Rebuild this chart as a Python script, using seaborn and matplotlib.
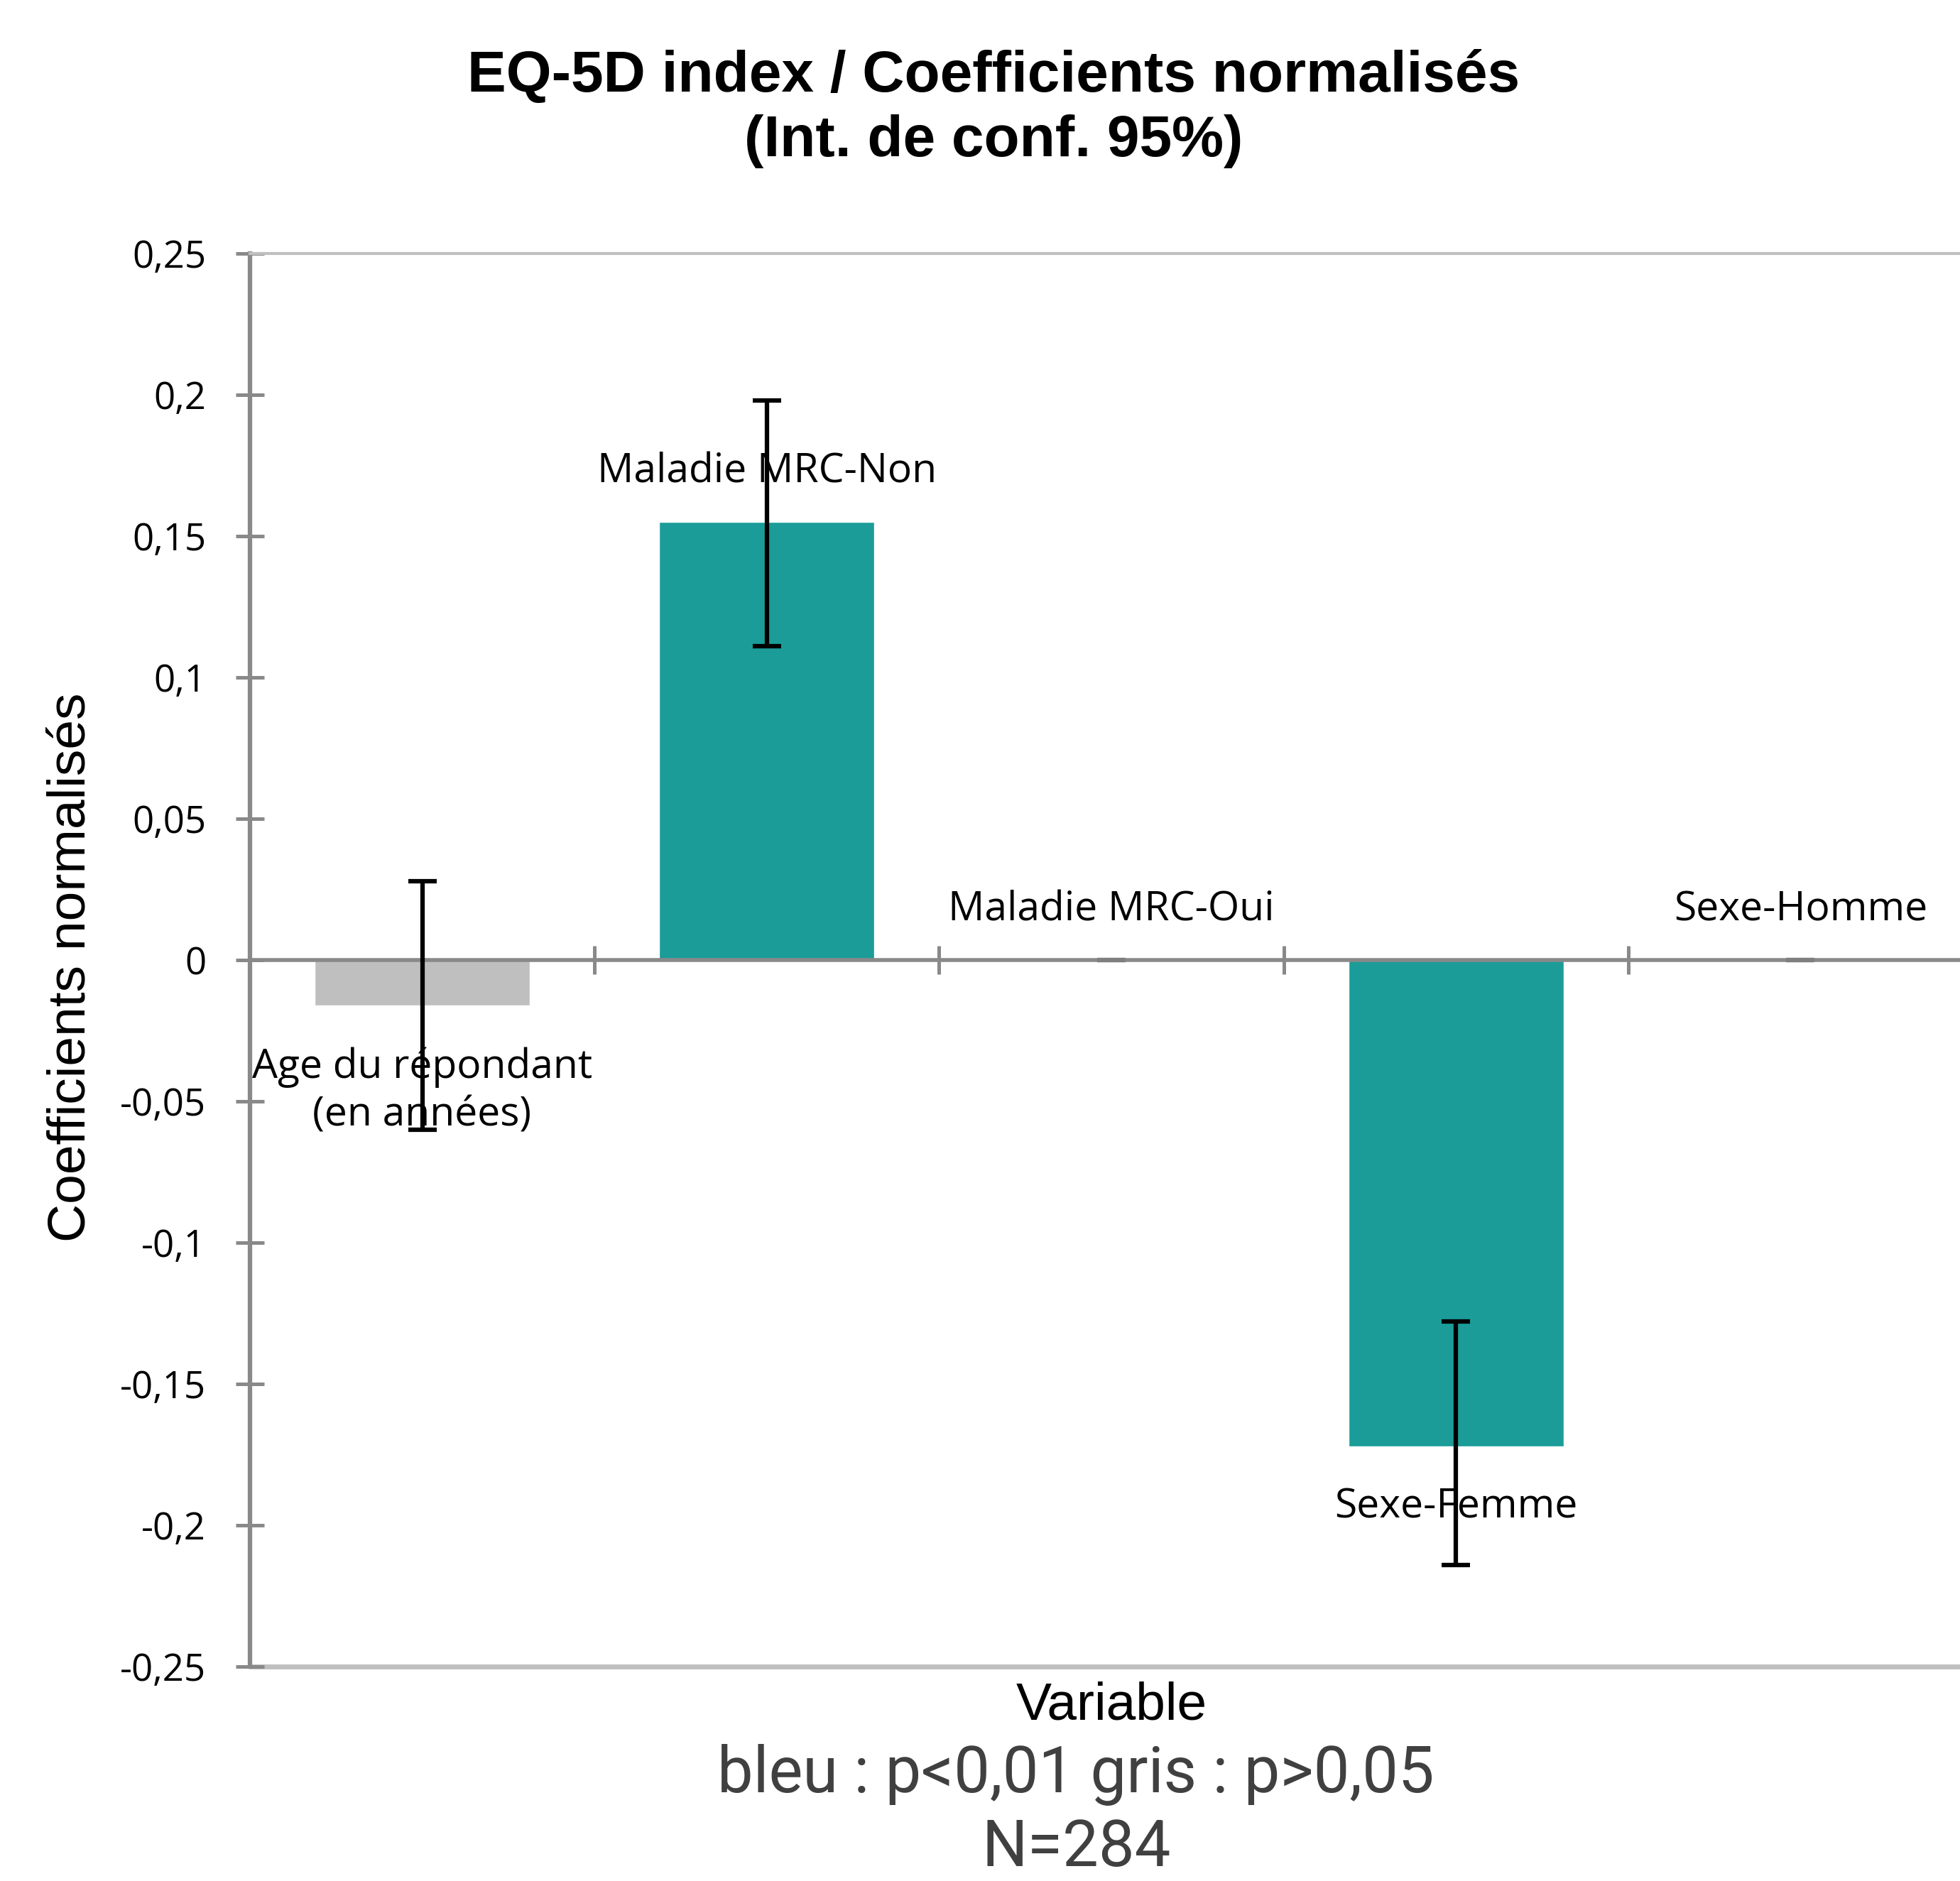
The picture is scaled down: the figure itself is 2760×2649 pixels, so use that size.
import pandas as pd
import seaborn as sns
import matplotlib.pyplot as plt

# données
variables = ['Age du répondant\n(en années)', 'Maladie MRC-Non', 'Maladie MRC-Oui', 'Sexe-Femme', 'Sexe-Homme']
coefs = [-0.016, 0.155, 0.0, -0.172, 0.0]
ic_bas = [-0.060, 0.111, 0.0, -0.214, 0.0]
ic_haut = [0.028, 0.198, 0.0, -0.128, 0.0]
significatif = ['gris', 'bleu', 'ref', 'bleu', 'ref']
yticks = [-0.25, -0.2, -0.15, -0.1, -0.05, 0, 0.05, 0.1, 0.15, 0.2, 0.25]

couleurs = {'bleu': '#1b9c98', 'gris': '#bfbfbf', 'ref': '#bfbfbf'}

df = pd.DataFrame({'variable': variables, 'coef': coefs, 'bas': ic_bas,
                   'haut': ic_haut, 'sig': significatif})

sns.set_style('white')
plt.rcParams['font.family'] = ['Liberation Sans', 'DejaVu Sans']
plt.rcParams['text.color'] = 'black'
plt.rcParams['axes.labelcolor'] = 'black'
plt.rcParams['ytick.color'] = 'black'

fig = plt.figure(figsize=(27.6, 26.49), dpi=100)
ax = fig.add_axes([0.1275, 0.114, 0.879, 0.7512])

sns.barplot(data=df, x='variable', y='coef', hue='variable',
            palette=[couleurs[s] for s in significatif], width=0.625,
            saturation=1, legend=False, ax=ax)

# intervalles de confiance
for i, row in df.iterrows():
    col = 'black' if row['sig'] != 'ref' else '#7f7f7f'
    ax.errorbar(i, row['coef'], yerr=[[row['coef'] - row['bas']], [row['haut'] - row['coef']]],
                fmt='none', ecolor=col, elinewidth=4.5, capsize=14.4, capthick=4.5, zorder=4)

# étiquettes des barres
for i, row in df.iterrows():
    if row['coef'] >= 0:
        ax.annotate(row['variable'], (i, row['coef']), xytext=(0, 40), textcoords='offset points',
                    ha='center', va='baseline', fontsize=41, family='Open Sans', zorder=5)
    else:
        ax.annotate(row['variable'], (i, row['coef']), xytext=(0, -42), textcoords='offset points',
                    ha='center', va='top', fontsize=41, family='Open Sans', linespacing=1.25, zorder=3)

ax.set_xlim(-0.5, len(variables) - 0.5)
ax.set_ylim(-0.25, 0.25)
ax.set_yticks(yticks)
ax.set_yticklabels([('%g' % t).replace('.', ',') for t in yticks], family='Open Sans', fontsize=38)
ax.set_xticks(range(len(variables)))
ax.set_xticklabels([''] * len(variables))
ax.set_xticks([0.5, 1.5, 2.5, 3.5], minor=True)

ax.spines['bottom'].set_position(('data', 0))
ax.spines['bottom'].set_color('#898989')
ax.spines['bottom'].set_linewidth(4)
ax.spines['left'].set_color('#898989')
ax.spines['left'].set_linewidth(4.5)
ax.spines['right'].set_visible(False)
ax.spines['top'].set_color('#c0c0c0')
ax.spines['top'].set_linewidth(3)
ax.axhline(-0.25, color='#c0c0c0', lw=5, clip_on=False, zorder=0)

ax.tick_params(axis='y', direction='inout', length=29, width=3.6, color='#898989',
               labelcolor='black', pad=30, left=True)
ax.tick_params(axis='x', which='major', length=0)
ax.tick_params(axis='x', which='minor', direction='inout', length=29, width=3.6, color='#898989', bottom=True)

ax.set_xlabel('Variable', fontsize=54, color='black')
ax.xaxis.set_label_coords(0.5, -0.0276)
ax.xaxis.label.set_va('center')
ax.set_ylabel('Coefficients normalisés', fontsize=54, color='black')
ax.yaxis.set_label_coords(-0.104, 0.495)
ax.yaxis.label.set_va('center')

fig.text(0.507, 0.942, 'EQ-5D index / Coefficients normalisés\n(Int. de conf. 95%)',
         ha='center', va='center', fontsize=59, fontweight='bold', linespacing=1.25, color='black')
fig.text(0.549, 0.0565, 'bleu : p<0,01 gris : p>0,05', ha='center', va='center',
         fontsize=65, family='Roboto', color='#404040')
fig.text(0.549, 0.0175, 'N=284', ha='center', va='center',
         fontsize=65, family='Roboto', color='#404040')

fig.savefig('out.png', dpi=100)
